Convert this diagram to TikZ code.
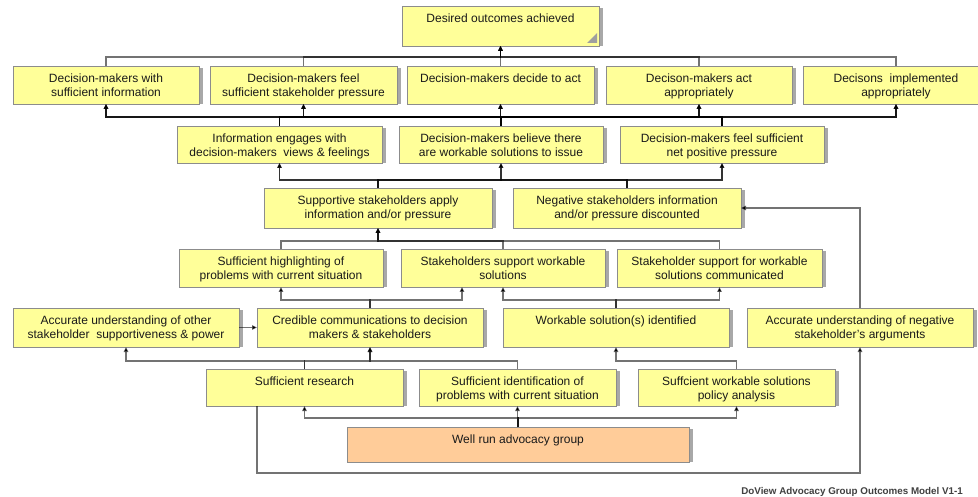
\documentclass[tikz,border=0pt]{standalone}
\usepackage{fontspec}
\setmainfont{Liberation Sans}
\usetikzlibrary{arrows.meta,calc}
\definecolor{yfill}{HTML}{FFFF99}
\definecolor{pfill}{HTML}{FFCC99}
\definecolor{bordc}{HTML}{8C8C8C}
\definecolor{shadowc}{HTML}{A8A8A8}
\definecolor{txtc}{HTML}{1A1A1A}
\newcommand\ybox[7]{%
  \pgfmathsetmacro\bw{#4-#2}\pgfmathsetmacro\bh{#5-#3}%
  \fill[shadowc] (#2+4,#3+2) rectangle (#4+4,#5);
  \node[box,fill=#6,anchor=north west] (#1) at (#2,#3)
    {\parbox[c][\bh pt][t]{\bw pt}{\centering\rule{0pt}{16.5pt}#7}};
}
\begin{document}
\begin{tikzpicture}[x=1pt,y=-1pt,
  box/.style={draw=bordc,line width=0.8pt,inner sep=0pt,outer sep=0pt,
    text=txtc,font=\fontsize{12}{14}\selectfont},
  link/.style={draw=black,draw opacity=0.55,line width=1.1pt,
    -{Triangle[length=5pt,width=4.5pt]}},
  foot/.style={font=\bfseries\fontsize{9.8}{11}\selectfont,text=black!75,inner sep=0pt}]
\fill[white] (0,0) rectangle (978,497);
\useasboundingbox (0,0) rectangle (978,497);
% boxes
\ybox{des}{402}{6}{599}{46}{yfill}{Desired outcomes achieved}
\fill[gray!75] ($(des.south east)+(-12,-3)$) -- ($(des.south east)+(-2,-3)$) -- ($(des.south east)+(-2,-13)$) -- cycle;
\ybox{r2a}{13}{66}{199}{104}{yfill}{Decision-makers with\\sufficient information}
\ybox{r2b}{210}{66}{397}{104}{yfill}{Decision-makers feel\\sufficient stakeholder pressure}
\ybox{r2c}{407}{66}{594}{104}{yfill}{Decision-makers decide to act}
\ybox{r2d}{606}{66}{792}{104}{yfill}{Decison-makers act\\appropriately}
\ybox{r2e}{803}{66}{989}{104}{yfill}{Decisons~ implemented\\appropriately}
\ybox{r3a}{177}{126}{382}{163}{yfill}{Information engages with\\decision-makers~ views \& feelings}
\ybox{r3b}{399}{126}{603}{163}{yfill}{Decision-makers believe there\\are workable solutions to issue}
\ybox{r3c}{620}{126}{824}{163}{yfill}{Decision-makers feel sufficient\\net positive pressure}
\ybox{r4a}{264}{188}{492}{228}{yfill}{Supportive stakeholders apply\\information and/or pressure}
\ybox{r4b}{513}{188}{741}{228}{yfill}{Negative stakeholders information\\and/or pressure discounted}
\ybox{r5a}{179}{249}{383}{287}{yfill}{Sufficient highlighting of\\problems with current situation}
\ybox{r5b}{401}{249}{605}{287}{yfill}{Stakeholders support workable\\solutions}
\ybox{r5c}{617}{249}{822}{287}{yfill}{Stakeholder support for workable\\solutions communicated}
\ybox{r6a}{13}{308}{239}{347}{yfill}{Accurate understanding of other\\stakeholder~ supportiveness \& power}
\ybox{r6b}{257}{308}{483}{347}{yfill}{Credible communications to decision\\makers \& stakeholders}
\ybox{r6c}{503}{308}{729}{347}{yfill}{Workable solution(s) identified}
\ybox{r6d}{747}{308}{973}{347}{yfill}{Accurate understanding of negative\\stakeholder's arguments}
\ybox{r7a}{206}{369}{403}{406}{yfill}{Sufficient research}
\ybox{r7b}{419}{369}{616}{406}{yfill}{Sufficient identification of\\problems with current situation}
\ybox{r7c}{638}{369}{835}{406}{yfill}{Suffcient workable solutions\\policy analysis}
\ybox{well}{347}{427}{689}{462}{pfill}{Well run advocacy group}
\node[foot,anchor=base east] (foot) at (963,494) {DoView Advocacy Group Outcomes Model V1-1};
% bus levels
\coordinate (b1) at (0,57);
\coordinate (b2) at (0,117);
\coordinate (b3) at (0,180);
\coordinate (b4) at (0,241);
\coordinate (b5) at (0,300);
\coordinate (b6) at (0,361);
\coordinate (b7) at (0,418);
\coordinate (b8) at (0,473);
% row 2 -> desired
\foreach \c in {r2a,r2b,r2c,r2d,r2e}
  \draw[link] (\c.north) -- (\c.north |- b1) -| (des.south);
% row 3 -> row 2
\foreach \c in {r3a,r3b,r3c}
  \foreach \p in {r2a,r2b,r2c,r2d,r2e}
    \draw[link] (\c.north) -- (\c.north |- b2) -| (\p.south);
% row 4 -> row 3
\foreach \c in {r4a,r4b}
  \foreach \p in {r3a,r3b,r3c}
    \draw[link] (\c.north) -- (\c.north |- b3) -| (\p.south);
% row 5 -> supportive
\foreach \c in {r5a,r5b,r5c}
  \draw[link] (\c.north) -- (\c.north |- b4) -| (r4a.south);
% row 6 -> row 5
\coordinate (r5bl) at ([xshift=-41pt]r5b.south);
\draw[link] (r6b.north) -- (r6b.north |- b5) -| (r5a.south);
\draw[link] (r6b.north) -- (r6b.north |- b5) -| (r5bl);
\draw[link] (r6c.north) -- (r6c.north |- b5) -| (r5b.south);
\draw[link] (r6c.north) -- (r6c.north |- b5) -| (r5c.south);
\draw[link] (r6a.east) -- (r6b.west);
\draw[link] (r6d.north) |- (r4b.east);
% row 7 -> row 6
\draw[link] (r7a.north) -- (r7a.north |- b6) -| (r6a.south);
\draw[link] (r7a.north) -- (r7a.north |- b6) -| (r6b.south);
\draw[link] (r7b.north) -- (r7b.north |- b6) -| (r6b.south);
\draw[link] (r7c.north) -- (r7c.north |- b6) -| (r6c.south);
% well run -> row 7
\foreach \p in {r7a,r7b,r7c}
  \draw[link] (well.north) -- (well.north |- b7) -| (\p.south);
% research -> accurate negative
\coordinate (rs) at ([xshift=-47.5pt]r7a.south);
\draw[link] (rs) -- (rs |- b8) -| (r6d.south);
\end{tikzpicture}
\end{document}
